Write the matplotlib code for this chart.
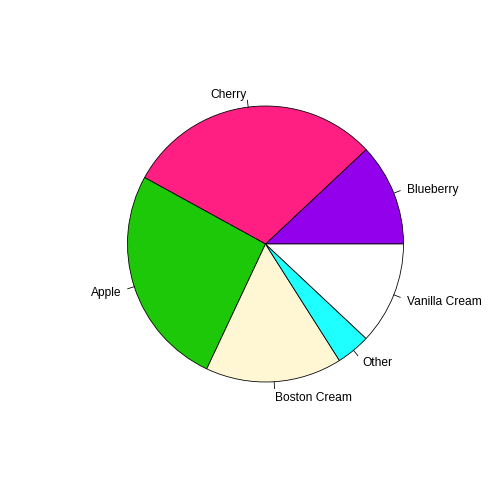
import matplotlib
matplotlib.use("Agg")
import matplotlib.pyplot as plt
import matplotlib.transforms as mtransforms
import numpy as np

labels = ["Blueberry", "Cherry", "Apple", "Boston Cream", "Other", "Vanilla Cream"]
sales = [0.12, 0.30, 0.26, 0.16, 0.04, 0.12]
colors = ["#9200EC", "#FF1F82", "#1CC808", "#FFF6D4", "#1EFFFF", "#FFFFFF"]

plt.rcParams["font.family"] = ["Liberation Sans", "DejaVu Sans"]

W = H = 504
R = 0.8
S = 138.0 / R        # pixels per data unit
cx, cy = 265.5, 244  # pie centre in pixels (from top-left)

fig = plt.figure(figsize=(W / 72, H / 72), dpi=72)
ax = fig.add_axes([0, 0, 1, 1])

ax.pie(sales, colors=colors, radius=R, startangle=0, counterclock=True,
       center=(0, 0), frame=False,
       wedgeprops=dict(edgecolor="black", linewidth=0.8))
ax.set_xlim(-cx / S, (W - cx) / S)
ax.set_ylim(-(H - cy) / S, cy / S)
ax.set_aspect("equal")
ax.axis("off")

# nudge labels down a little to match R's vertical centring
shift = mtransforms.offset_copy(ax.transData, fig=fig, x=0, y=-2, units="points")

cum = np.cumsum([0] + sales) / sum(sales)
for i, lab in enumerate(labels):
    a = 2 * np.pi * (cum[i] + cum[i + 1]) / 2
    px, py = R * np.cos(a), R * np.sin(a)
    ax.plot([px, 1.05 * px], [py, 1.05 * py], color="black", lw=0.8)
    ax.text(1.1 * px, 1.1 * py, lab, fontsize=12, transform=shift,
            ha="right" if px < 0 else "left", va="center")

fig.savefig("out.png", dpi=72)
